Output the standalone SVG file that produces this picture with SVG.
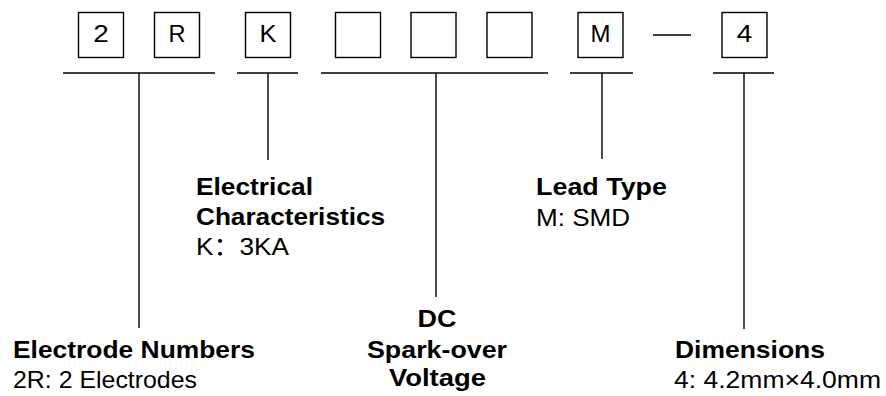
<svg xmlns="http://www.w3.org/2000/svg" width="886" height="396" viewBox="0 0 886 396">
<style>
.box{fill:#fff;stroke:#000;stroke-width:1.4}
.ln{stroke:#000;stroke-width:1.4;fill:none}
.ch{font-family:"Liberation Sans",Arial,sans-serif;font-size:24px;fill:#000;text-anchor:middle}
.b{font-family:"Liberation Sans",Arial,"Noto Sans CJK SC",sans-serif;font-size:24.5px;font-weight:bold;fill:#000}
.r{font-family:"Liberation Sans",Arial,"Noto Sans CJK SC",sans-serif;font-size:24.5px;fill:#000}
</style>
<rect width="886" height="396" fill="#fff"/>
<g id="code">
<g id="box-2"><rect class="box" x="78.5" y="12.5" width="45" height="45"/><text class="ch" x="101" y="41.5" textLength="15.5" lengthAdjust="spacingAndGlyphs">2</text></g>
<g id="box-R"><rect class="box" x="154.5" y="12.5" width="45" height="45"/><text class="ch" x="177" y="41.5" textLength="17" lengthAdjust="spacingAndGlyphs">R</text></g>
<g id="box-K"><rect class="box" x="245.5" y="12.5" width="45" height="45"/><text class="ch" x="268" y="41.5" textLength="17" lengthAdjust="spacingAndGlyphs">K</text></g>
<g id="box-v1"><rect class="box" x="335.5" y="12.5" width="45" height="45"/></g>
<g id="box-v2"><rect class="box" x="411" y="12.5" width="45" height="45"/></g>
<g id="box-v3"><rect class="box" x="487" y="12.5" width="45" height="45"/></g>
<g id="box-M"><rect class="box" x="578" y="12.5" width="45" height="45"/><text class="ch" x="600.5" y="41.5" textLength="20" lengthAdjust="spacingAndGlyphs">M</text></g>
<g id="dash"><line class="ln" x1="653" y1="35" x2="691" y2="35"/></g>
<g id="box-4"><rect class="box" x="722" y="12.5" width="45" height="45"/><text class="ch" x="744.5" y="41.5" textLength="15.5" lengthAdjust="spacingAndGlyphs">4</text></g>
</g>
<g id="connectors">
<line class="ln" x1="63" y1="73" x2="215" y2="73"/>
<line class="ln" x1="139" y1="73" x2="139" y2="328"/>
<line class="ln" x1="237" y1="73" x2="298" y2="73"/>
<line class="ln" x1="268" y1="73" x2="268" y2="160"/>
<line class="ln" x1="321" y1="73" x2="548" y2="73"/>
<line class="ln" x1="436" y1="73" x2="436" y2="297"/>
<line class="ln" x1="570" y1="73" x2="633" y2="73"/>
<line class="ln" x1="602" y1="73" x2="602" y2="159"/>
<line class="ln" x1="713" y1="73" x2="774" y2="73"/>
<line class="ln" x1="744" y1="73" x2="744" y2="329"/>
</g>
<g id="label-electrode">
<text class="b" x="13" y="358" textLength="242" lengthAdjust="spacingAndGlyphs">Electrode Numbers</text>
<text class="r" x="13" y="388" textLength="184" lengthAdjust="spacingAndGlyphs">2R: 2 Electrodes</text>
</g>
<g id="label-electrical">
<text class="b" x="196" y="195" textLength="117" lengthAdjust="spacingAndGlyphs">Electrical</text>
<text class="b" x="196" y="225" textLength="189" lengthAdjust="spacingAndGlyphs">Characteristics</text>
<text class="r" x="196" y="255" textLength="93" lengthAdjust="spacingAndGlyphs">K：3KA</text>
</g>
<g id="label-dc">
<text class="b" x="437" y="327" text-anchor="middle" textLength="39" lengthAdjust="spacingAndGlyphs">DC</text>
<text class="b" x="437" y="358" text-anchor="middle" textLength="140" lengthAdjust="spacingAndGlyphs">Spark-over</text>
<text class="b" x="437.5" y="386" text-anchor="middle" textLength="97" lengthAdjust="spacingAndGlyphs">Voltage</text>
</g>
<g id="label-lead">
<text class="b" x="536" y="195" textLength="131" lengthAdjust="spacingAndGlyphs">Lead Type</text>
<text class="r" x="536" y="226" textLength="94" lengthAdjust="spacingAndGlyphs">M: SMD</text>
</g>
<g id="label-dim">
<text class="b" x="675" y="358" textLength="150" lengthAdjust="spacingAndGlyphs">Dimensions</text>
<text class="r" x="674" y="388" textLength="207" lengthAdjust="spacingAndGlyphs">4: 4.2mm×4.0mm</text>
</g>
</svg>
